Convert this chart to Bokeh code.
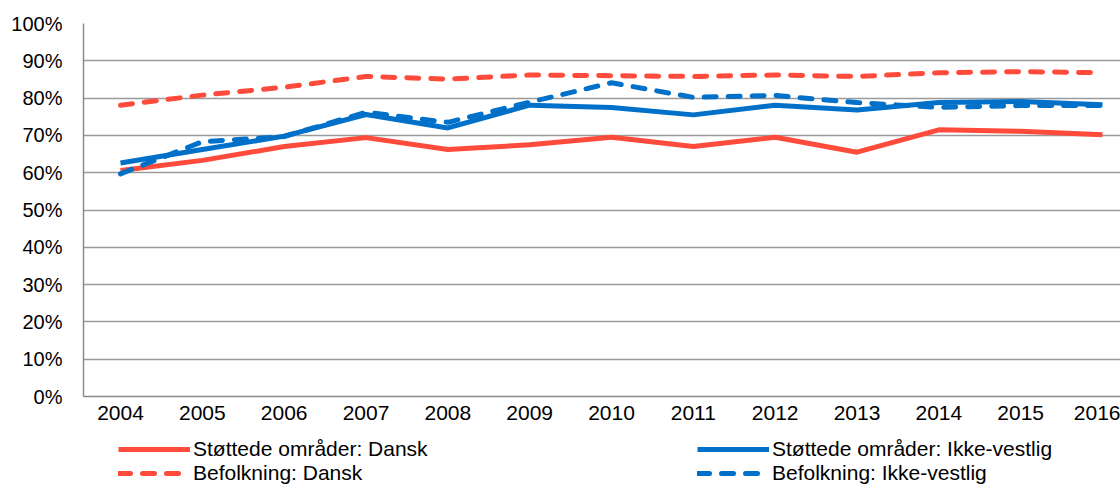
from bokeh.plotting import figure
from bokeh.layouts import column
from bokeh.models import Range1d, FixedTicker, Legend, LegendItem
from bokeh.embed import file_html
from bokeh.resources import INLINE

years = [2004, 2005, 2006, 2007, 2008, 2009, 2010, 2011, 2012, 2013, 2014, 2015, 2016]
stottede_dansk = [60.6, 63.3, 67.0, 69.4, 66.2, 67.5, 69.5, 67.0, 69.5, 65.5, 71.5, 71.1, 70.2]
stottede_ikkevestlig = [62.6, 66.2, 69.8, 75.6, 72.0, 78.1, 77.5, 75.5, 78.1, 76.8, 78.8, 79.1, 78.2]
befolkning_dansk = [78.1, 80.8, 82.9, 85.8, 85.1, 86.2, 86.0, 85.8, 86.2, 85.8, 86.8, 87.1, 86.8]
befolkning_ikkevestlig = [59.7, 68.3, 69.7, 76.2, 73.5, 78.9, 84.1, 80.2, 80.7, 78.8, 77.5, 78.0, 78.0]
y_ticks = [0, 10, 20, 30, 40, 50, 60, 70, 80, 90, 100]
labels = ["Støttede områder: Dansk", "Støttede områder: Ikke-vestlig",
          "Befolkning: Dansk", "Befolkning: Ikke-vestlig"]
series = [stottede_dansk, stottede_ikkevestlig, befolkning_dansk, befolkning_ikkevestlig]

RED = "#FF4B3B"
BLUE = "#0070C8"
FONT = "Liberation Sans"

styles = [dict(line_color=RED, line_width=5, line_join="round"),
          dict(line_color=BLUE, line_width=5, line_join="round"),
          dict(line_color=RED, line_width=5, line_dash="12 12", line_cap="round"),
          dict(line_color=BLUE, line_width=5, line_dash="12 12", line_cap="round")]

p = figure(width=1120, height=430, output_backend="svg", toolbar_location=None,
           x_range=Range1d(2003.548, 2016.22), y_range=Range1d(0, 100),
           min_border_left=83, min_border_right=0, min_border_top=23, min_border_bottom=34)
p.outline_line_color = None

for i in (0, 2, 1, 3):
    p.line(years, series[i], **styles[i])

p.xaxis.ticker = FixedTicker(ticks=years)
p.xaxis.major_label_overrides = {y: str(y) for y in years}
p.yaxis.ticker = FixedTicker(ticks=y_ticks)
p.yaxis.major_label_overrides = {t: f"{t}%" for t in y_ticks}

for ax in (p.xaxis, p.yaxis):
    ax.major_label_text_font = FONT
    ax.major_label_text_color = "black"
    ax.axis_line_color = "#8c8c8c"
    ax.axis_line_width = 1.5
    ax.major_tick_line_color = None
    ax.minor_tick_line_color = None
    ax.major_tick_out = 0
    ax.major_tick_in = 0
p.xaxis.major_label_text_font_size = "21px"
p.yaxis.major_label_text_font_size = "20px"
p.xaxis.major_label_standoff = 9
p.yaxis.major_label_standoff = 21

p.xgrid.grid_line_color = None
p.ygrid.grid_line_color = "#9a9a9a"
p.ygrid.grid_line_width = 1.5

# legend strip (its frame is aligned with the chart frame by the column layout)
lf = figure(width=1120, height=55, output_backend="svg", toolbar_location=None,
            x_range=Range1d(0, 1), y_range=Range1d(0, 1),
            x_axis_type=None, y_axis_type=None,
            min_border_left=83, min_border_right=0, min_border_top=0, min_border_bottom=0)
lf.outline_line_color = None
lf.xgrid.grid_line_color = None
lf.ygrid.grid_line_color = None
# same data, falls outside this strip's range: only used as legend swatches
rs = [lf.line(years, series[i], **styles[i]) for i in range(4)]

def make_legend(idx, x):
    return Legend(items=[LegendItem(label=labels[i], renderers=[rs[i]]) for i in idx],
                  location=(x, 0), orientation="vertical",
                  glyph_width=72, glyph_height=20, label_height=20, label_standoff=3,
                  spacing=0, padding=0, margin=0,
                  label_text_font=FONT, label_text_font_size="21px", label_text_color="black",
                  border_line_color=None, background_fill_alpha=0)

lf.add_layout(make_legend([0, 2], 35), "center")
lf.add_layout(make_legend([1, 3], 614), "center")

layout = column(p, lf, spacing=0)
open("out.html", "w").write(file_html(layout, INLINE))
